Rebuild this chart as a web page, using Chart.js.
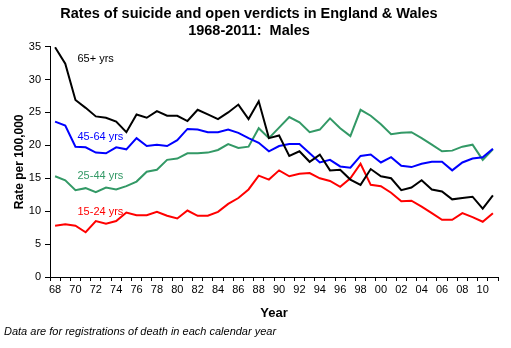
<!DOCTYPE html>
<html>
<head>
<meta charset="utf-8">
<script src="https://cdn.jsdelivr.net/npm/chart.js@4/dist/chart.umd.min.js"></script>
<style>
  html, body { margin: 0; padding: 0; background: #fff; }
  #wrap { width: 511px; height: 348px; position: relative; }
</style>
</head>
<body>
<div id="wrap"><canvas id="chart"></canvas></div>
<script>
var years = ['68','69','70','71','72','73','74','75','76','77','78','79','80','81','82','83','84','85','86','87','88','89',
             '90','91','92','93','94','95','96','97','98','99','00','01','02','03','04','05','06','07','08','09','10','11'];

var age65plus = [34.9,32.4,26.9,25.7,24.4,24.2,23.6,22.0,24.7,24.2,25.2,24.5,24.5,23.7,25.4,24.7,24.0,25.0,26.2,24.0,26.7,21.1,
                 21.5,18.4,19.1,17.5,18.6,16.2,16.3,14.8,14.0,16.4,15.3,15.0,13.2,13.6,14.7,13.3,13.0,11.8,12.0,12.2,10.4,12.4];
var age45to64 = [23.6,23.0,19.8,19.7,18.9,18.8,19.7,19.4,21.1,19.9,20.1,19.9,20.8,22.5,22.4,22.0,22.0,22.4,21.9,21.1,20.4,19.1,
                 19.9,20.2,20.2,18.8,17.4,17.8,16.8,16.6,18.4,18.6,17.4,18.2,16.9,16.7,17.2,17.5,17.5,16.2,17.4,18.0,18.2,19.5];
var age25to44 = [15.3,14.7,13.2,13.5,12.9,13.6,13.3,13.8,14.5,16.0,16.3,17.8,18.0,18.8,18.8,18.9,19.3,20.2,19.6,19.8,22.6,21.1,
                 22.7,24.3,23.5,22.0,22.4,24.1,22.6,21.4,25.4,24.5,23.2,21.7,21.9,22.0,21.1,20.1,19.1,19.2,19.8,20.1,17.8,19.4];
var age15to24 = [7.8,8.0,7.8,6.8,8.5,8.1,8.5,9.8,9.4,9.4,9.9,9.3,8.9,10.1,9.3,9.3,9.9,11.1,12.0,13.3,15.4,14.8,
                 16.2,15.3,15.7,15.8,15.0,14.6,13.7,15.0,17.2,14.0,13.8,12.8,11.5,11.6,10.7,9.7,8.7,8.7,9.7,9.1,8.4,9.7];

var seriesNames = ['65+ yrs', '45-64 yrs', '25-44 yrs', '15-24 yrs'];
var seriesColors = ['#000000', '#0000ff', '#339966', '#ff0000'];
var yTicks = [0, 5, 10, 15, 20, 25, 30, 35];

var FONT = "'Liberation Sans', Arial, sans-serif";

// in-chart series labels + footnote
var labelPlugin = {
  id: 'labels',
  afterDraw: function(chart) {
    var ctx = chart.ctx;
    var x = chart.scales.x, y = chart.scales.y;
    var spots = [33.2, 21.3, 15.4, 9.9];
    ctx.save();
    ctx.font = '11px ' + FONT;
    ctx.textBaseline = 'middle';
    ctx.textAlign = 'left';
    for (var i = 0; i < seriesNames.length; i++) {
      ctx.fillStyle = seriesColors[i];
      ctx.fillText(seriesNames[i], x.getPixelForValue(2.2), y.getPixelForValue(spots[i]));
    }
    ctx.fillStyle = '#000';
    ctx.font = 'italic 11px ' + FONT;
    ctx.fillText('Data are for registrations of death in each calendar year', 4, 332);
    ctx.restore();
  }
};

var datasets = [age65plus, age45to64, age25to44, age15to24].map(function(d, i) {
  return {
    label: seriesNames[i],
    data: d,
    borderColor: seriesColors[i],
    backgroundColor: seriesColors[i],
    borderWidth: 2,
    pointRadius: 0,
    tension: 0,
    fill: false
  };
});

new Chart('chart', {
  type: 'line',
  data: { labels: years, datasets: datasets },
  options: {
    responsive: true,
    maintainAspectRatio: false,
    animation: false,
    layout: { padding: { left: 0, right: 13, top: 0, bottom: 23 } },
    plugins: {
      legend: { display: false },
      tooltip: { enabled: false },
      title: {
        display: true,
        text: ['Rates of suicide and open verdicts in England & Wales', '1968-2011:  Males'],
        color: '#000',
        font: { family: FONT, size: 14.5, weight: 'bold', lineHeight: 1.16 },
        padding: { top: 6, bottom: 7 }
      }
    },
    scales: {
      x: {
        type: 'category',
        offset: true,
        border: { color: '#000', width: 1 },
        grid: { offset: true, drawOnChartArea: false, color: '#000', tickLength: 4 },
        ticks: {
          color: '#000',
          autoSkip: false,
          maxRotation: 0,
          padding: 2,
          font: { family: FONT, size: 11 },
          callback: function(v, i) { return i % 2 === 0 ? years[i] : ''; }
        },
        title: {
          display: true,
          text: 'Year',
          color: '#000',
          font: { family: FONT, size: 13, weight: 'bold' },
          padding: { top: 4, bottom: 4 }
        },
        afterFit: function(s) { s.height = 48; }
      },
      y: {
        min: 0,
        max: 35,
        border: { color: '#000', width: 1 },
        grid: { drawOnChartArea: false, color: '#000', tickLength: 5 },
        afterBuildTicks: function(s) { s.ticks = yTicks.map(function(v) { return { value: v }; }); },
        ticks: {
          color: '#000',
          padding: 4,
          font: { family: FONT, size: 11 }
        },
        title: {
          display: true,
          text: 'Rate per 100,000',
          color: '#000',
          font: { family: FONT, size: 12, weight: 'bold' },
          padding: { top: 12, bottom: 0 }
        },
        afterFit: function(s) { s.width = 50; }
      }
    }
  },
  plugins: [labelPlugin]
});
</script>
</body>
</html>
